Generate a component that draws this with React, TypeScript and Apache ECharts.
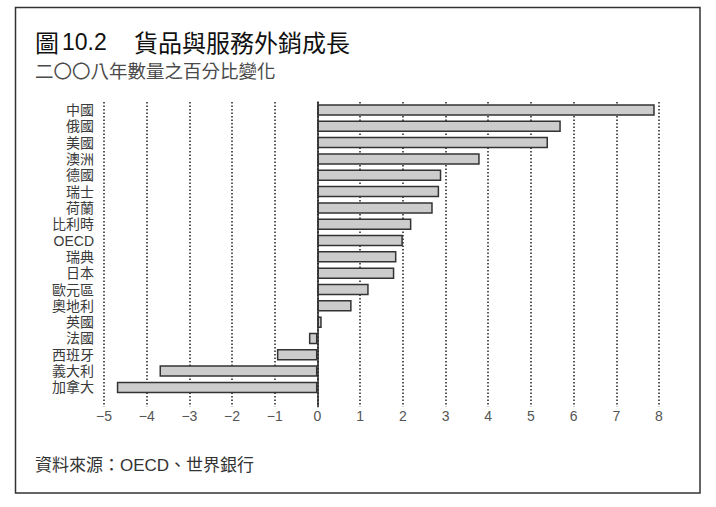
import React, { useEffect, useRef } from "react";
import * as echarts from "echarts";

const categories = ["中國", "俄國", "美國", "澳洲", "德國", "瑞士", "荷蘭", "比利時", "OECD", "瑞典", "日本", "歐元區", "奧地利", "英國", "法國", "西班牙", "義大利", "加拿大"];
const values = [7.9, 5.7, 5.4, 3.8, 2.9, 2.85, 2.7, 2.2, 2.0, 1.85, 1.8, 1.2, 0.8, 0.1, -0.2, -0.95, -3.7, -4.7];
const axisMin = -5;
const axisMax = 8;

const titleFig = "圖";
const titleNum = "10.2";
const titleText = "貨品與服務外銷成長";
const subtitle = "二〇〇八年數量之百分比變化";
const source = "資料來源：OECD、世界銀行";

const FONT = "'Liberation Sans', 'Noto Sans CJK TC', sans-serif";

export default function App() {
  const ref = useRef<HTMLDivElement>(null);
  useEffect(() => {
    if (!ref.current) return;
    const chart = echarts.init(ref.current, undefined, { renderer: "svg" });
    chart.setOption({
      animation: false,
      backgroundColor: "#ffffff",
      textStyle: { fontFamily: FONT },
      grid: [
        { left: 104, right: 57, top: 101.8, height: 293.8 },
        { left: 104, right: 57, top: 102, height: 304.7 },
      ],
      xAxis: [
        { gridIndex: 0, type: "value", min: axisMin, max: axisMax, interval: 1, show: false },
        {
          gridIndex: 1,
          type: "value",
          min: axisMin,
          max: axisMax,
          interval: 1,
          axisLine: { show: false },
          axisTick: { show: false },
          axisLabel: {
            margin: 2,
            fontSize: 14,
            color: "#555",
            fontFamily: FONT,
            formatter: (v: number) => (v < 0 ? "\u2212" + Math.abs(v) : String(v)),
          },
          splitLine: { show: true, lineStyle: { type: [1.5, 2], color: "#222", width: 1.5 } },
        },
      ],
      yAxis: [
        {
          gridIndex: 0,
          type: "category",
          data: categories,
          inverse: true,
          axisLine: { show: false, onZero: false },
          axisTick: { show: false },
          axisLabel: { interval: 0, margin: 10, fontSize: 14, color: "#3a3a3a", fontFamily: FONT },
          splitLine: { show: false },
        },
        {
          gridIndex: 1,
          type: "value",
          min: 0,
          max: 1,
          axisLine: { show: true, onZero: true, lineStyle: { color: "#222", width: 1.5 } },
          axisTick: { show: false },
          axisLabel: { show: false },
          splitLine: { show: false },
        },
      ],
      series: [
        {
          type: "bar",
          xAxisIndex: 0,
          yAxisIndex: 0,
          data: values,
          barWidth: 11.5,
          itemStyle: { color: "#cccccc", borderColor: "#333", borderWidth: 1.5 },
        },
      ],
      graphic: [
        {
          type: "rect",
          shape: { x: 15.5, y: 7.5, width: 684.5, height: 485.5 },
          style: { fill: "none", stroke: "#333", lineWidth: 1.5 },
          z: 100,
        },
        {
          type: "text",
          x: 35,
          y: 41.5,
          style: { text: titleFig, font: "normal 24px 'Noto Sans CJK TC', sans-serif", lineHeight: 24, fill: "#111", verticalAlign: "middle" },
        },
        {
          type: "text",
          x: 62,
          y: 42,
          style: { text: titleNum, font: "normal 23px 'Liberation Sans', sans-serif", lineHeight: 23, fill: "#111", verticalAlign: "middle" },
        },
        {
          type: "text",
          x: 134,
          y: 41.5,
          style: { text: titleText, font: "normal 24px 'Noto Sans CJK TC', sans-serif", lineHeight: 24, fill: "#111", verticalAlign: "middle" },
        },
        {
          type: "text",
          x: 35,
          y: 70,
          style: { text: subtitle, font: "normal 18.5px 'Noto Sans CJK TC', sans-serif", lineHeight: 19, fill: "#4a4a4a", verticalAlign: "middle" },
        },
        {
          type: "text",
          x: 35,
          y: 465,
          style: { text: source, font: "normal 17px " + FONT, lineHeight: 17, fill: "#333", verticalAlign: "middle" },
        },
      ],
    });
    return () => chart.dispose();
  }, []);
  return (
    <div
      ref={ref}
      style={{ position: "absolute", left: 0, top: 0, width: 716, height: 507, background: "#fff" }}
    />
  );
}
